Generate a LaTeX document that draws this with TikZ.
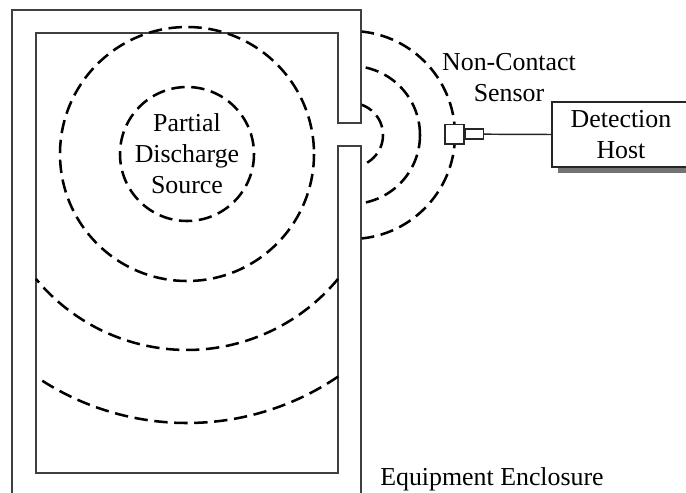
\documentclass[tikz,border=0pt]{standalone}
\usepackage{fontspec}
\setmainfont{Liberation Serif}
\begin{document}
\begin{tikzpicture}[x=0.75pt,y=0.75pt,yscale=-1,
  wall/.style={draw=black!75,line width=1.1pt},
  wave/.style={draw=black,line width=1.9pt,dash pattern=on 10pt off 5pt},
  lbl/.style={font=\fontsize{19.4}{23.3}\selectfont,align=center,inner sep=0pt},
  hostbox/.style={draw=black!85,line width=1.1pt,fill=white,minimum width=103.5pt,minimum height=48.75pt,inner sep=0pt,font=\fontsize{19.4}{23.3}\selectfont,align=center},
  sens/.style={draw=black!85,line width=1.1pt,fill=white,inner sep=0pt}]
\useasboundingbox (0,0) rectangle (686,493);
% enclosure walls
\draw[wall] (12,500) -- (12,10) -- (361,10) -- (361,123) -- (338,123) -- (338,33)
  -- (36,33) -- (36,473) -- (338,473) -- (338,146) -- (361,146) -- (361,500);
% waves inside
\coordinate (src) at (187,154);
\draw[wave] (src) circle[radius=67];
\draw[wave] (src) circle[radius=127];
\draw[wave] (338,278.9) arc[start angle=39.6,end angle=140.4,radius=196];
\draw[wave] (338.2,376.5) arc[start angle=55.8,end angle=122.6,radius=269];
% waves outside
\begin{scope}
\clip (361.5,0) rectangle (686,493);
\coordinate (gap) at (351,135);
\draw[wave] (gap) circle[radius=32];
\draw[wave] (gap) circle[radius=69];
\draw[wave] (gap) circle[radius=104];
\end{scope}
% labels
\node[lbl] (pd) at (187,154) {Partial\\Discharge\\Source};
\node[lbl] (ncs) at (509,78) {Non-Contact\\Sensor};
\node[lbl,anchor=base west] (enc) at (380,485) {Equipment Enclosure};
% host
\fill[black!55] (558,167) rectangle (700,173);
\node[hostbox] (host) at (621,134.5) {Detection\\Host};
% sensor
\node[sens,minimum width=14.25pt,minimum height=14.5pt] (sensor) at (454.5,134.2) {};
\node[sens,minimum width=13.5pt,minimum height=7.5pt,anchor=west] (tip) at (sensor.east) {};
\draw[black!85,line width=1.1pt] (tip.east) -- (host.west);
\end{tikzpicture}
\end{document}
